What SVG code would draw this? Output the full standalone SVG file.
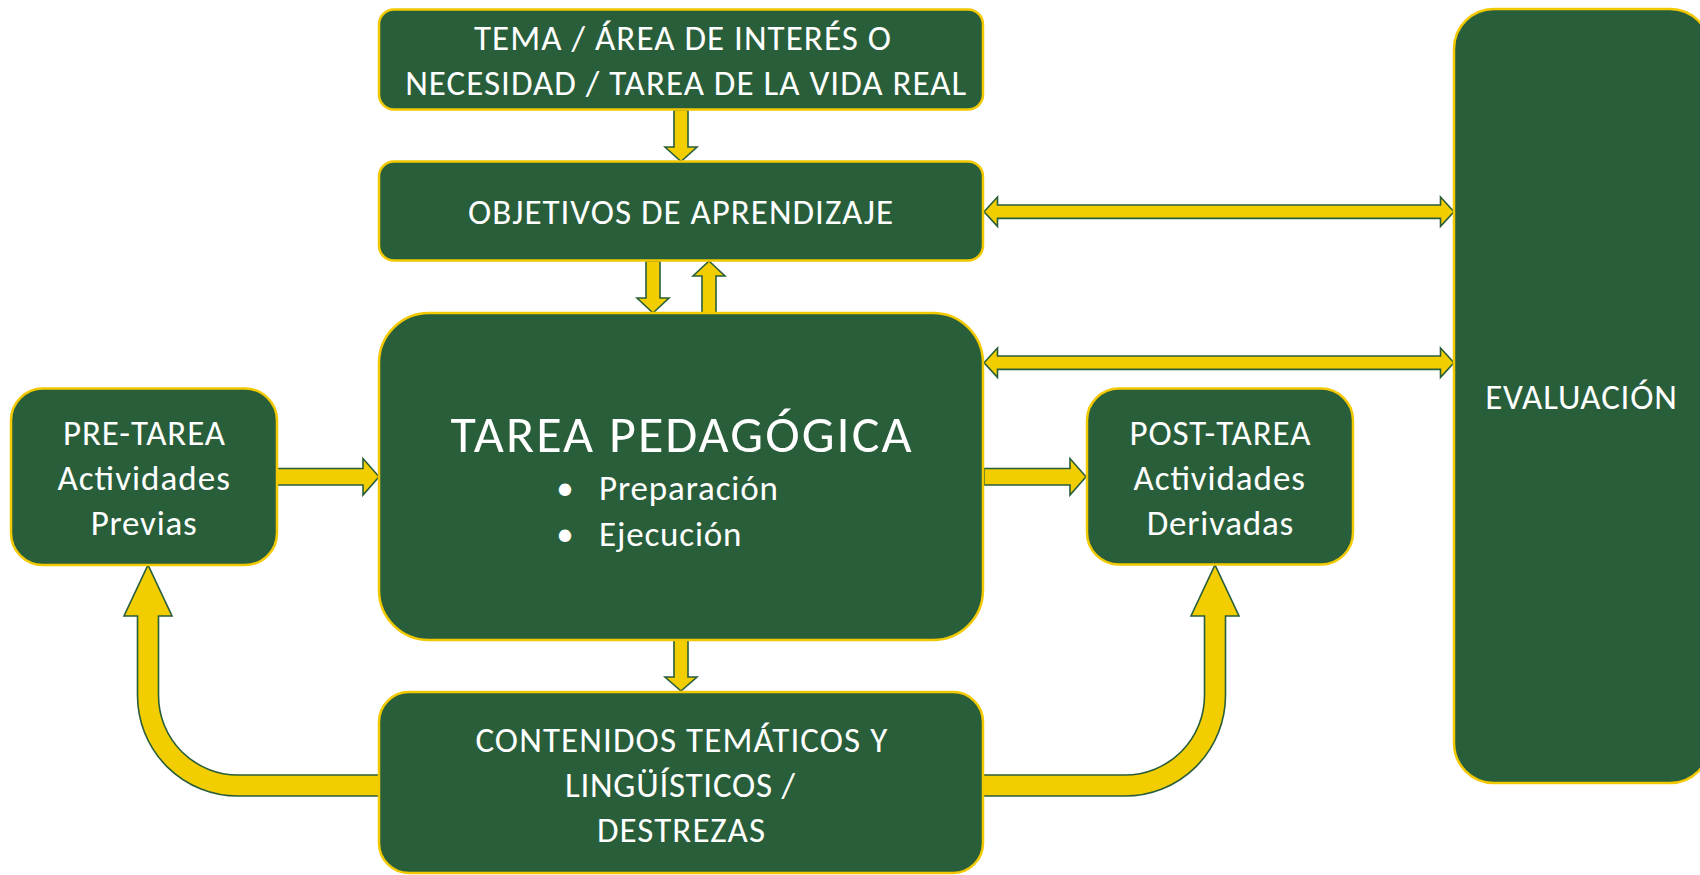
<svg xmlns="http://www.w3.org/2000/svg" width="1700" height="875" viewBox="0 0 1700 875">
<style>
.node{fill:#295E3B;stroke:#F2C800;stroke-width:2.5}
.arr{fill:#F2CE00;stroke:#2A5E3A;stroke-width:1.6;stroke-linejoin:miter}
text{font-family:Carlito,Lato,"Open Sans",sans-serif;fill:#FFFFFF;text-anchor:middle}
.t{font-size:35px}
.big{font-size:52px}
.l{text-anchor:start}
</style>
<rect width="1700" height="875" fill="#FFFFFF"/>
<g id="connectors">
<polygon class="arr" points="674,110 688,110 688,147 697,147 681,161.5 665,147 674,147"/>
<polygon class="arr" points="646,261 660,261 660,298 669,298 653,313 637,298 646,298"/>
<polygon class="arr" points="702,313 716,313 716,276 725,276 709,261 693,276 702,276"/>
<polygon class="arr" points="674,640 688,640 688,677 697,677 681,691 665,677 674,677"/>
<polygon class="arr" points="277,468.5 363,468.5 363,458.5 379,476.7 363,495 363,485 277,485"/>
<polygon class="arr" points="984,468.5 1070,468.5 1070,458.5 1086,476.7 1070,495 1070,485 984,485"/>
<polygon class="arr" points="984,211.7 997.5,197 997.5,205 1440.5,205 1440.5,197 1454,211.7 1440.5,226.4 1440.5,218.4 997.5,218.4 997.5,226.4"/>
<polygon class="arr" points="984,362.7 997.5,348 997.5,356 1440.5,356 1440.5,348 1454,362.7 1440.5,377.4 1440.5,369.4 997.5,369.4 997.5,377.4"/>
<path class="arr" d="M983,775 L1125,775 A79.5,79.5 0 0 0 1204.5,695.5 L1204.5,616 L1191,616 L1215,565 L1239,616 L1225.5,616 L1225.5,695.5 A100.5,100.5 0 0 1 1125,796 L983,796 Z"/>
<path class="arr" d="M379,775 L238,775 A79.5,79.5 0 0 1 158.5,695.5 L158.5,616 L172,616 L148,565 L124,616 L137.5,616 L137.5,695.5 A100.5,100.5 0 0 0 238,796 L379,796 Z"/>
</g>
<g id="tema">
<rect class="node" x="379" y="9.5" width="604" height="100" rx="15"/>
<text class="t" x="682.5" y="50" textLength="417">TEMA / ÁREA DE INTERÉS O</text>
<text class="t" x="685.7" y="95" textLength="561">NECESIDAD / TAREA DE LA VIDA REAL</text>
</g>
<g id="objetivos">
<rect class="node" x="379" y="161.5" width="604" height="99" rx="15"/>
<text class="t" x="680.5" y="224" textLength="425">OBJETIVOS DE APRENDIZAJE</text>
</g>
<g id="tarea">
<rect class="node" x="379" y="313" width="604" height="327" rx="50"/>
<text class="big" x="681" y="452" textLength="461">TAREA PEDAGÓGICA</text>
<text class="t" x="565" y="500">•</text>
<text class="t l" x="599" y="500" textLength="179">Preparación</text>
<text class="t" x="565" y="546">•</text>
<text class="t l" x="599" y="546" textLength="142.5">Ejecución</text>
</g>
<g id="contenidos">
<rect class="node" x="379" y="692" width="604" height="181" rx="30"/>
<text class="t" x="681.4" y="752" textLength="412">CONTENIDOS TEMÁTICOS Y</text>
<text class="t" x="680" y="797" textLength="230">LINGÜÍSTICOS /</text>
<text class="t" x="681" y="842" textLength="168">DESTREZAS</text>
</g>
<g id="pretarea">
<rect class="node" x="11" y="388.5" width="266" height="176.5" rx="32"/>
<text class="t" x="144" y="445" textLength="162">PRE-TAREA</text>
<text class="t" x="143.7" y="490" textLength="172.5">Actividades</text>
<text class="t" x="143.7" y="535" textLength="106">Previas</text>
</g>
<g id="posttarea">
<rect class="node" x="1087" y="388.5" width="266" height="176" rx="32"/>
<text class="t" x="1220" y="445" textLength="181">POST-TAREA</text>
<text class="t" x="1219.2" y="490" textLength="171.5">Actividades</text>
<text class="t" x="1220" y="534.5" textLength="146.5">Derivadas</text>
</g>
<g id="evaluacion">
<rect class="node" x="1454" y="9" width="256" height="774" rx="40"/>
<text class="t" x="1581" y="409" textLength="191.5">EVALUACIÓN</text>
</g>
</svg>
